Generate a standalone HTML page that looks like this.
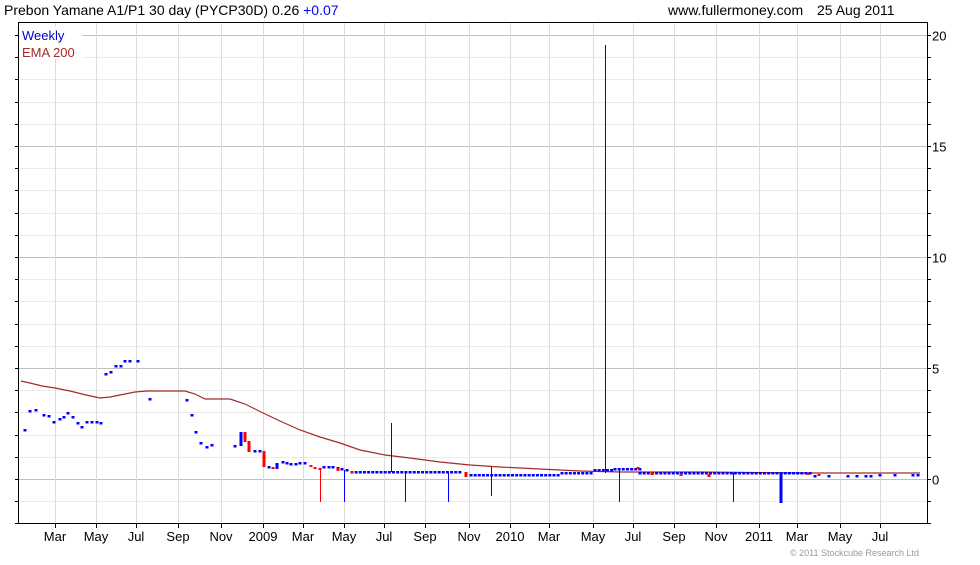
<!DOCTYPE html>
<html><head><meta charset="utf-8"><style>
body{margin:0;background:#fff;width:980px;height:560px;overflow:hidden;font-family:"Liberation Sans",sans-serif}
</style></head><body>
<svg id="s" width="980" height="560" xmlns="http://www.w3.org/2000/svg" font-family="Liberation Sans, sans-serif">
<rect width="980" height="560" fill="#fff"/>
<g id="grid"></g>
<rect x="18.5" y="22.5" width="909" height="501" fill="none" stroke="#000"/>
<text x="4" y="15" font-size="14">Prebon Yamane A1/P1 30 day (PYCP30D) 0.26 <tspan fill="#0000ff">+0.07</tspan></text>
<text x="668" y="15" font-size="14">www.fullermoney.com</text>
<text x="817" y="15" font-size="14">25 Aug 2011</text>
<rect x="20" y="27" width="62" height="32" fill="#fff"/>
<text x="22" y="40" font-size="13" fill="#0000cc">Weekly</text>
<text x="22" y="57" font-size="13" fill="#a52a2a">EMA 200</text>
<g id="data"></g>
<text x="790" y="556" font-size="9" fill="#999">© 2011 Stockcube Research Ltd</text>
</svg>
<script>
var NS="http://www.w3.org/2000/svg",g=document.getElementById('grid'),d=document.getElementById('data'),s=document.getElementById('s');
function el(p,t,a,txt){var e=document.createElementNS(NS,t);for(var k in a)e.setAttribute(k,a[k]);if(txt)e.textContent=txt;p.appendChild(e);return e;}
function Y(v){return 479-22.2*v;}
for(var v=-2;v<=20;v++){var y=Math.round(Y(v))+0.5;el(g,'line',{x1:19,x2:927,y1:y,y2:y,stroke:v%5==0?'#c0c0c0':'#ebebeb'});
el(g,'line',{x1:927,x2:931,y1:y,y2:y,stroke:'#000'});el(g,'line',{x1:15,x2:18,y1:y,y2:y,stroke:'#000'});
if(v%5==0&&v>=0)el(s,'text',{x:932,y:y+5,'font-size':13},''+v);}
var m=[[55,'Mar'],[96,'May'],[136,'Jul'],[178,'Sep'],[221,'Nov'],[263,'2009'],[303,'Mar'],[344,'May'],[384,'Jul'],[425,'Sep'],[469,'Nov'],[510,'2010'],[549,'Mar'],[593,'May'],[633,'Jul'],[674,'Sep'],[716,'Nov'],[759,'2011'],[797,'Mar'],[840,'May'],[880,'Jul']];
m.forEach(function(a){el(g,'line',{x1:a[0]+.5,x2:a[0]+.5,y1:23,y2:523,stroke:'#dcdcdc'});el(g,'line',{x1:a[0]+.5,x2:a[0]+.5,y1:524,y2:528,stroke:'#000'});el(s,'text',{x:a[0],y:541,'font-size':13,'text-anchor':'middle'},a[1]);});
// EMA
var e=[[21,381],[30,383],[42,386],[55,388],[70,391],[86,395],[100,398],[110,397],[125,394],[135,392],[147,391],[185,391],[195,394],[205,399],[230,399],[245,404],[263,413],[280,421],[300,430],[320,437],[340,443],[360,450],[385,455],[410,458],[440,462],[470,465],[500,467],[540,469],[580,471],[620,472],[700,472],[800,473],[920,473]];
el(d,'polyline',{points:e.map(function(p){return p.join(',')}).join(' '),fill:'none',stroke:'#a52a2a','stroke-width':1.2});
var pts=[[25,430],[30,411],[36,410],[44,415],[49,416],[54,422],[60,419],[64,417],[68,413],[73,417],[78,423],[82,427],[87,422],[92,422],[97,422],[101,423],[106,374],[111,372],[116,366],[121,366],[125,361],[130,361],[138,361],[150,399],[187,400],[192,415],[196,432],[201,443],[207,447],[212,445],[235,446],[255,451],[260,451],[269,467],[283,462],[287,463],[291,464],[296,464],[300,463],[305,463],[324,467],[329,467],[333,467],[338,468],[342,469],[347,470]];
for(var x=352;x<464;x+=4.15)pts.push([x,472]);
for(var x=471;x<562;x+=4.15)pts.push([x,475]);
for(var x=562;x<595;x+=4.15)pts.push([x,473]);
for(var x=595;x<615;x+=4.15)pts.push([x,470]);
for(var x=615;x<640;x+=4.15)pts.push([x,469]);
for(var x=640;x<812;x+=4.15)pts.push([x,473]);
[[815,476],[829,476],[848,476],[857,476],[866,476],[871,476],[880,475],[895,475],[913,475],[918,475]].forEach(function(p){pts.push(p)});
pts.forEach(function(p){el(d,'rect',{x:p[0]-1.5,y:p[1]-1,width:3,height:2.5,fill:'#0000ff'});});
var red=[[245,432,442],[249,441,452],[264,451,467],[273,467,469],[311,465,467],[315,467,469],[320,468,470],[338,468,471],[352,471,473],[466,472,477],[638,467,469],[652,472,475],[681,473,476],[709,474,477],[808,473,475],[819,474,476]];
red.forEach(function(r){el(d,'rect',{x:r[0]-1.5,y:r[1],width:3,height:r[2]-r[1],fill:'#ff0000'});});
[[241,432,446],[277,463,469]].forEach(function(r){el(d,'rect',{x:r[0]-1.5,y:r[1],width:3,height:r[2]-r[1],fill:'#0000ff'});});
el(d,'rect',{x:779.5,y:473,width:3,height:30,fill:'#0000ff'});
[[320,469,502,'#ff0000'],[344,470,502,'#0000ff'],[391,423,472,'#0000ff'],[405,472,502,'#0000ff'],[448,472,502,'#0000ff'],[491,467,496,'#0000ff'],[605,45,473,'#0000ff'],[619,470,502,'#0000ff'],[733,473,502,'#0000ff']].forEach(function(l){el(d,'line',{x1:l[0]+.5,x2:l[0]+.5,y1:l[1],y2:l[2],stroke:l[3]});});
</script>
</body></html>
